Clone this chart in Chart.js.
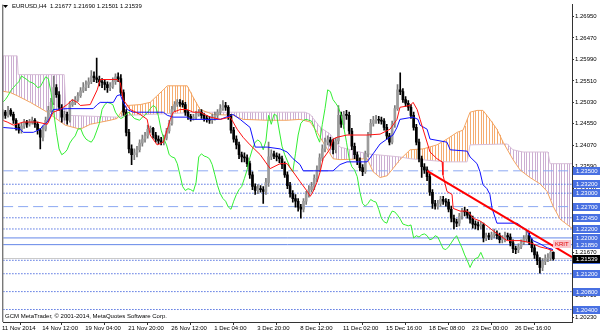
<!DOCTYPE html>
<html><head><meta charset="utf-8">
<script src="https://cdn.jsdelivr.net/npm/chart.js@4.4.1/dist/chart.umd.min.js"></script>
<style>html,body{margin:0;padding:0;background:#fff;overflow:hidden}</style>
</head><body>
<canvas id="c" width="600" height="333"></canvas>
<script>
const headerText = 'EURUSD,H4  1.21677 1.21690 1.21501 1.21539';
const footerText = 'GCM MetaTrader, \u00A9 2001-2014, MetaQuotes Software Corp.';
const tickIdx = [0, 15, 31, 47, 63, 79, 95, 111, 127, 143, 159, 175, 191];
const tickLabels = ['11 Nov 2014','14 Nov 12:00','19 Nov 04:00','21 Nov 20:00','26 Nov 12:00','1 Dec 04:00','3 Dec 20:00','8 Dec 12:00','11 Dec 02:00','15 Dec 16:00','18 Dec 08:00','23 Dec 00:00','26 Dec 16:00'];
const axisTicks = [1.20230,1.20710,1.21190,1.21670,1.22150,1.22630,1.23110,1.23590,1.24070,1.24550,1.25030,1.25510,1.25990,1.26470,1.26950];

const openP = [1.2476,1.2470,1.2481,1.2474,1.2485,1.2476,1.2463,1.2447,1.2441,1.2450,
1.2459,1.2454,1.2459,1.2463,1.2454,1.2441,1.2425,1.2443,1.2463,1.2485,
1.2503,1.2536,1.2520,1.2492,1.2470,1.2476,1.2463,1.2498,1.2503,1.2509,
1.2518,1.2529,1.2536,1.2543,1.2549,1.2562,1.2558,1.2554,1.2549,1.2547,
1.2543,1.2536,1.2538,1.2549,1.2560,1.2556,1.2525,1.2481,1.2436,1.2399,
1.2386,1.2390,1.2397,1.2412,1.2421,1.2428,1.2443,1.2445,1.2430,1.2421,
1.2417,1.2414,1.2423,1.2439,1.2456,1.2487,1.2498,1.2503,1.2501,1.2498,
1.2481,1.2472,1.2467,1.2470,1.2476,1.2481,1.2474,1.2467,1.2465,1.2463,
1.2470,1.2474,1.2481,1.2489,1.2496,1.2492,1.2472,1.2441,1.2421,1.2408,
1.2386,1.2381,1.2379,1.2366,1.2341,1.2315,1.2306,1.2310,1.2308,1.2304,
1.2324,1.2381,1.2388,1.2383,1.2381,1.2377,1.2364,1.2341,1.2317,1.2299,
1.2288,1.2282,1.2269,1.2264,1.2282,1.2297,1.2308,1.2315,1.2333,1.2352,
1.2379,1.2399,1.2414,1.2419,1.2414,1.2397,1.2417,1.2474,1.2454,1.2476,
1.2474,1.2439,1.2405,1.2386,1.2372,1.2357,1.2348,1.2388,1.2430,1.2456,
1.2463,1.2465,1.2463,1.2461,1.2447,1.2428,1.2414,1.2454,1.2489,1.2531,
1.2527,1.2509,1.2501,1.2492,1.2474,1.2447,1.2414,1.2377,1.2359,1.2352,
1.2337,1.2302,1.2277,1.2271,1.2277,1.2286,1.2282,1.2280,1.2264,1.2244,
1.2236,1.2233,1.2249,1.2260,1.2258,1.2251,1.2242,1.2231,1.2229,1.2227,
1.2229,1.2200,1.2205,1.2202,1.2207,1.2209,1.2205,1.2196,1.2198,1.2205,
1.2202,1.2189,1.2176,1.2174,1.2180,1.2189,1.2198,1.2205,1.2191,1.2178,
1.2162,1.2149,1.2134,1.2147,1.2154,1.2156,1.21677];

const highP = [1.2483,1.2487,1.2485,1.2494,1.2489,1.2481,1.2467,1.2454,1.2456,1.2465,
1.2463,1.2465,1.2470,1.2467,1.2459,1.2445,1.2450,1.2470,1.2494,1.2512,
1.2562,1.2543,1.2527,1.2498,1.2483,1.2481,1.2505,1.2509,1.2516,1.2525,
1.2536,1.2547,1.2551,1.2558,1.2574,1.2571,1.2602,1.2562,1.2556,1.2554,
1.2549,1.2547,1.2558,1.2567,1.2569,1.2565,1.2531,1.2487,1.2443,1.2408,
1.2399,1.2405,1.2419,1.2430,1.2436,1.2452,1.2450,1.2447,1.2436,1.2428,
1.2425,1.2430,1.2445,1.2463,1.2494,1.2505,1.2509,1.2509,1.2507,1.2503,
1.2485,1.2476,1.2476,1.2483,1.2487,1.2487,1.2478,1.2474,1.2472,1.2476,
1.2481,1.2487,1.2498,1.2507,1.2503,1.2496,1.2476,1.2447,1.2428,1.2414,
1.2392,1.2390,1.2386,1.2372,1.2348,1.2321,1.2319,1.2317,1.2315,1.2333,
1.2414,1.2397,1.2394,1.2390,1.2388,1.2383,1.2370,1.2348,1.2324,1.2306,
1.2297,1.2288,1.2275,1.2288,1.2304,1.2317,1.2324,1.2341,1.2361,1.2388,
1.2408,1.2423,1.2428,1.2425,1.2421,1.2423,1.2496,1.2481,1.2483,1.2485,
1.2481,1.2445,1.2412,1.2392,1.2379,1.2364,1.2394,1.2436,1.2465,1.2472,
1.2474,1.2472,1.2470,1.2467,1.2454,1.2434,1.2461,1.2496,1.2543,1.2569,
1.2534,1.2516,1.2507,1.2498,1.2481,1.2454,1.2421,1.2383,1.2366,1.2359,
1.2344,1.2308,1.2284,1.2284,1.2293,1.2293,1.2288,1.2286,1.2271,1.2251,
1.2242,1.2255,1.2266,1.2269,1.2264,1.2258,1.2249,1.2238,1.2236,1.2236,
1.2233,1.2211,1.2211,1.2213,1.2220,1.2216,1.2211,1.2205,1.2213,1.2211,
1.2209,1.2196,1.2182,1.2187,1.2196,1.2205,1.2216,1.2211,1.2198,1.2185,
1.2169,1.2156,1.2154,1.2162,1.2165,1.2176,1.21690];

const lowP = [1.2463,1.2465,1.2467,1.2470,1.2472,1.2456,1.2441,1.2434,1.2434,1.2445,
1.2447,1.2450,1.2454,1.2447,1.2432,1.2399,1.2417,1.2439,1.2459,1.2481,
1.2498,1.2514,1.2485,1.2459,1.2463,1.2454,1.2459,1.2494,1.2498,1.2505,
1.2514,1.2525,1.2529,1.2536,1.2545,1.2549,1.2547,1.2540,1.2536,1.2531,
1.2525,1.2529,1.2534,1.2543,1.2549,1.2518,1.2474,1.2428,1.2390,1.2364,
1.2375,1.2381,1.2392,1.2405,1.2414,1.2423,1.2436,1.2423,1.2414,1.2410,
1.2408,1.2408,1.2419,1.2434,1.2452,1.2483,1.2494,1.2494,1.2492,1.2474,
1.2465,1.2461,1.2463,1.2465,1.2472,1.2467,1.2461,1.2459,1.2456,1.2456,
1.2463,1.2467,1.2476,1.2485,1.2485,1.2465,1.2434,1.2414,1.2399,1.2377,
1.2370,1.2370,1.2359,1.2333,1.2308,1.2297,1.2299,1.2302,1.2277,1.2297,
1.2315,1.2375,1.2377,1.2372,1.2368,1.2355,1.2335,1.2310,1.2291,1.2280,
1.2269,1.2260,1.2244,1.2258,1.2275,1.2291,1.2302,1.2308,1.2326,1.2348,
1.2372,1.2392,1.2408,1.2405,1.2388,1.2390,1.2410,1.2447,1.2445,1.2465,
1.2432,1.2397,1.2377,1.2364,1.2350,1.2339,1.2344,1.2381,1.2425,1.2450,
1.2456,1.2456,1.2454,1.2441,1.2421,1.2408,1.2410,1.2447,1.2485,1.2520,
1.2503,1.2494,1.2485,1.2467,1.2441,1.2408,1.2370,1.2335,1.2344,1.2328,
1.2295,1.2266,1.2264,1.2264,1.2271,1.2275,1.2271,1.2258,1.2236,1.2220,
1.2225,1.2227,1.2242,1.2249,1.2244,1.2233,1.2222,1.2220,1.2218,1.2220,
1.2191,1.2194,1.2196,1.2196,1.2200,1.2198,1.2189,1.2189,1.2191,1.2196,
1.2182,1.2167,1.2165,1.2167,1.2176,1.2185,1.2191,1.2185,1.2169,1.2154,
1.2140,1.2121,1.2127,1.2140,1.2147,1.2149,1.21501];

const closeP = [1.2470,1.2481,1.2474,1.2485,1.2476,1.2463,1.2447,1.2441,1.2450,1.2459,
1.2454,1.2459,1.2463,1.2454,1.2441,1.2425,1.2443,1.2463,1.2485,1.2503,
1.2536,1.2520,1.2492,1.2470,1.2476,1.2463,1.2498,1.2503,1.2509,1.2518,
1.2529,1.2536,1.2543,1.2549,1.2562,1.2558,1.2554,1.2549,1.2547,1.2543,
1.2536,1.2538,1.2549,1.2560,1.2556,1.2525,1.2481,1.2436,1.2399,1.2386,
1.2390,1.2397,1.2412,1.2421,1.2428,1.2443,1.2445,1.2430,1.2421,1.2417,
1.2414,1.2423,1.2439,1.2456,1.2487,1.2498,1.2503,1.2501,1.2498,1.2481,
1.2472,1.2467,1.2470,1.2476,1.2481,1.2474,1.2467,1.2465,1.2463,1.2470,
1.2474,1.2481,1.2489,1.2496,1.2492,1.2472,1.2441,1.2421,1.2408,1.2386,
1.2381,1.2379,1.2366,1.2341,1.2315,1.2306,1.2310,1.2308,1.2304,1.2324,
1.2381,1.2388,1.2383,1.2381,1.2377,1.2364,1.2341,1.2317,1.2299,1.2288,
1.2282,1.2269,1.2264,1.2282,1.2297,1.2308,1.2315,1.2333,1.2352,1.2379,
1.2399,1.2414,1.2419,1.2414,1.2397,1.2417,1.2474,1.2454,1.2476,1.2474,
1.2439,1.2405,1.2386,1.2372,1.2357,1.2348,1.2388,1.2430,1.2456,1.2463,
1.2465,1.2463,1.2461,1.2447,1.2428,1.2414,1.2454,1.2489,1.2531,1.2527,
1.2509,1.2501,1.2492,1.2474,1.2447,1.2414,1.2377,1.2359,1.2352,1.2337,
1.2302,1.2277,1.2271,1.2277,1.2286,1.2282,1.2280,1.2264,1.2244,1.2236,
1.2233,1.2249,1.2260,1.2258,1.2251,1.2242,1.2231,1.2229,1.2227,1.2229,
1.2200,1.2205,1.2202,1.2207,1.2209,1.2205,1.2196,1.2198,1.2205,1.2202,
1.2189,1.2176,1.2174,1.2180,1.2189,1.2198,1.2205,1.2191,1.2178,1.2162,
1.2149,1.2134,1.2147,1.2154,1.2156,1.21677,1.21539];

// Ichimoku lines (bar position, price)
const tenkanBar = [0.9,2.7,5.0,8.7,13.9,17.6,19.8,22.4,25.0,26.9,28.8,29.9,33.6,36.2,37.3,43.6,44.8,45.9,48.5,52.2,54.8,55.9,58.5,60.8,62.3,63.4,64.5,67.1,69.7,71.9,74.5,78.3,82.0,85.7,86.8,88.3,90.5,93.1,96.9,99.5,100.6,104.3,106.9,109.1,111.7,114.4,115.5,116.6,118.1,119.2,120.3,122.9,124.0,125.5,129.2,136.7,141.5,145.2,147.8,148.9,152.7,153.8,155.3,156.4,157.5,160.1,162.7,164.6,164.9,166.4,168.3,168.7,171.3,173.9,175.0,176.1,178.7,181.3,183.6,186.2,188.8,193.6,196.2,198.4,201.0,203.7,205.9];
const tenkanVal = [1.2463,1.2459,1.2452,1.2459,1.2459,1.2454,1.2481,1.2487,1.2498,1.2509,1.2503,1.2496,1.2498,1.2531,1.2554,1.2554,1.2547,1.2509,1.2487,1.2476,1.2465,1.2430,1.2408,1.2414,1.2443,1.2465,1.2481,1.2487,1.2487,1.2481,1.2481,1.2470,1.2465,1.2470,1.2459,1.2443,1.2425,1.2408,1.2386,1.2364,1.2355,1.2366,1.2366,1.2348,1.2326,1.2304,1.2293,1.2304,1.2326,1.2348,1.2377,1.2399,1.2421,1.2425,1.2430,1.2430,1.2432,1.2443,1.2465,1.2492,1.2496,1.2503,1.2487,1.2465,1.2443,1.2392,1.2377,1.2370,1.2341,1.2304,1.2297,1.2266,1.2260,1.2260,1.2253,1.2244,1.2238,1.2227,1.2216,1.2205,1.2194,1.2194,1.2191,1.2187,1.2180,1.2176,1.2171];

const kijunBar = [0.9,5.0,7.6,8.7,12.4,15.0,16.1,17.6,18.7,19.8,25.0,34.7,36.2,37.3,42.2,43.6,44.8,45.9,47.4,49.6,60.8,62.3,64.5,69.7,70.8,82.0,86.8,89.4,93.1,95.0,99.5,104.3,106.9,109.1,111.7,112.9,124.0,126.6,129.2,136.7,138.9,141.5,144.1,146.3,147.8,148.9,153.8,155.6,156.4,159.0,160.1,166.4,167.6,173.9,175.0,177.6,178.7,179.8,181.3,182.4,183.2,185.0,192.5,196.2,198.4,201.0,203.7,205.9];
const kijunVal = [1.2447,1.2445,1.2443,1.2436,1.2436,1.2443,1.2452,1.2459,1.2470,1.2487,1.2489,1.2489,1.2498,1.2503,1.2503,1.2518,1.2520,1.2503,1.2487,1.2481,1.2481,1.2474,1.2470,1.2470,1.2465,1.2465,1.2476,1.2465,1.2447,1.2403,1.2403,1.2399,1.2392,1.2377,1.2364,1.2350,1.2350,1.2364,1.2370,1.2370,1.2388,1.2410,1.2421,1.2430,1.2447,1.2465,1.2470,1.2465,1.2452,1.2443,1.2421,1.2414,1.2397,1.2394,1.2381,1.2366,1.2348,1.2319,1.2310,1.2297,1.2266,1.2233,1.2233,1.2216,1.2194,1.2187,1.2178,1.2174];

const senkouABar = [0,3.8,6.4,11.3,17.6,24.3,29.9,33.6,41.0,43.6,45.5,47.4,52.2,55.9,60.8,62.3,69.7,71.6,74.5,79.4,86.8,90.5,99.5,106.9,111.7,115.5,118.1,121.8,124.0,126.6,136.7,138.9,141.5,144.1,146.3,148.9,152.7,157.5,162.7,166.4,170.2,172.4,175.0,177.6,179.8,182.4,185.0,187.3,191.0,193.6,197.3,201.0,203.7,205.9,208.5,213.5];
const senkouAVal = [1.2529,1.2525,1.2518,1.2503,1.2481,1.2452,1.2443,1.2454,1.2463,1.2467,1.2485,1.2496,1.2498,1.2503,1.2531,1.2540,1.2540,1.2518,1.2487,1.2476,1.2474,1.2465,1.2463,1.2463,1.2465,1.2459,1.2436,1.2399,1.2377,1.2375,1.2377,1.2348,1.2335,1.2339,1.2355,1.2375,1.2397,1.2399,1.2408,1.2421,1.2436,1.2441,1.2481,1.2485,1.2485,1.2465,1.2443,1.2414,1.2375,1.2352,1.2335,1.2321,1.2304,1.2271,1.2242,1.2219];

const senkouBBar = [0,6.4,6.8,23.9,24.7,43.6,47.4,74.5,113.6,115.5,119.2,122.9,126.6,136.7,148.9,152.7,166.4,173.9,175.0,188.8,191.0,194.7,204.0,204.8,213.5];
const senkouBVal = [1.2607,1.2607,1.2565,1.2565,1.2474,1.2470,1.2474,1.2481,1.2481,1.2476,1.2447,1.2432,1.2403,1.2388,1.2381,1.2377,1.2370,1.2370,1.2408,1.2410,1.2397,1.2392,1.2392,1.2366,1.2366];

const trendBar = [159.0, 212.95];
const trendVal = [1.2350, 1.2157];
const trendName = 'KRIT';

const levelPrices = [1.2350,1.2320,1.2300,1.2270,1.2245,1.2220,1.2200,1.2185,1.2150,1.2120,1.2080,1.2040];
const levelKinds  = ['dash','dot','dot','dash','dot','dot','solid','solid','dot','dot','dot','dot'];
const lastPrice = 1.21539;

// ---------- rendering ----------
const FONT = "'Liberation Sans', Arial, sans-serif";
const pts = (xs, ys) => xs.map((x,k) => ({x, y: ys[k]}));
const X_MIN = 1.2326, X_MAX = 212.953;

const styleOf = k => k==='dash' ? {c:'rgb(140,168,242)', d:[10,5]} : k==='dot' ? {c:'rgb(85,115,225)', d:[1.5,1.5]} : {c:'rgb(100,135,232)', d:[]};

const levelSets = levelPrices.map((p,k) => {
  const s = styleOf(levelKinds[k]);
  return {type:'line', data:[{x:-10,y:p},{x:230,y:p}], borderColor:s.c, borderDash:s.d, borderWidth:1, pointRadius:0, order:9};
});

const isBull = i => closeP[i] >= openP[i];

// value of a read span at a bar position (used for the cloud hatching between the two spans)
function lineAt(xs, ys, a){
  if (a <= xs[0]) return ys[0];
  for (let k = 1; k < xs.length; k++) {
    if (a <= xs[k]) { const t = (a - xs[k-1]) / (xs[k] - xs[k-1]); return ys[k-1] + t * (ys[k] - ys[k-1]); }
  }
  return ys[ys.length-1];
}

const cloud = {
  id:'cloud',
  beforeDatasetsDraw(chart){
    const {ctx, chartArea:ar} = chart; const xs = chart.scales.x, ys = chart.scales.y;
    ctx.save();
    ctx.beginPath(); ctx.rect(ar.left, ar.top, ar.right-ar.left, ar.bottom-ar.top); ctx.clip();
    for (let a = 0; a <= 214; a++) {
      const A = lineAt(senkouABar, senkouAVal, a), B = lineAt(senkouBBar, senkouBVal, a);
      const px = Math.round(xs.getPixelForValue(a));
      const y1 = ys.getPixelForValue(Math.max(A,B)), y2 = ys.getPixelForValue(Math.min(A,B));
      ctx.fillStyle = A >= B ? 'rgb(245,172,112)' : 'rgb(204,174,210)';
      ctx.fillRect(px, y1, 1, y2 - y1);
    }
    ctx.restore();
  }
};

const decor = {
  id:'decor',
  afterDraw(chart){
    const {ctx, chartArea:a} = chart; const y = chart.scales.y;
    ctx.save();
    ctx.strokeStyle = '#444'; ctx.lineWidth = 1;
    ctx.beginPath(); ctx.moveTo(a.left-0.5, a.top); ctx.lineTo(a.left-0.5, a.bottom); ctx.stroke();
    ctx.font = '6px ' + FONT; ctx.textBaseline = 'middle'; ctx.fillStyle = '#000';
    ctx.beginPath(); ctx.moveTo(3,5); ctx.lineTo(8,5); ctx.lineTo(5.5,8); ctx.closePath(); ctx.fill();
    ctx.fillText(headerText, 12, 6.5);
    ctx.fillText(footerText, 5, 316);
    levelPrices.forEach(p => {
      const py = Math.round(y.getPixelForValue(p));
      ctx.fillStyle = 'rgb(72,112,226)'; ctx.fillRect(573, py-4, 27, 8);
      ctx.fillStyle = '#fff'; ctx.fillText(p.toFixed(5), 576, py);
    });
    const lp = Math.round(y.getPixelForValue(lastPrice));
    ctx.fillStyle = '#000'; ctx.fillRect(573, lp-4, 27, 8);
    ctx.fillStyle = '#fff'; ctx.fillText(lastPrice.toFixed(5), 576, lp);
    const ty = Math.round(y.getPixelForValue(1.2187));
    ctx.fillStyle = 'rgb(250,200,205)'; ctx.fillRect(553, ty-4, 18, 8);
    ctx.fillStyle = '#e00000'; ctx.fillText(trendName, 555, ty);
    ctx.restore();
  }
};

new Chart(document.getElementById('c'), {
  type:'line',
  data:{ datasets:[
    {type:'line', data:pts(trendBar,trendVal), borderColor:'#ff0000', borderWidth:2, pointRadius:0, order:0},
    {type:'line', data:pts(tenkanBar,tenkanVal), borderColor:'#ff1010', borderWidth:1, pointRadius:0, order:1},
    {type:'line', data:pts(kijunBar,kijunVal), borderColor:'#1010ff', borderWidth:1, pointRadius:0, order:2},
    {type:'line', data:closeP.map((c,i)=>({x:i-26, y:c})), borderColor:'#33ee33', borderWidth:1, pointRadius:0, order:3},
    {type:'bar', data:closeP.map((c,i)=>({x:i, y:[openP[i], c]})), barThickness:2, minBarLength:1, grouped:false,
      backgroundColor: ctx => isBull(ctx.dataIndex) ? '#9c9c9c' : '#000', borderWidth:0, order:4},
    {type:'bar', data:closeP.map((c,i)=>({x:i, y:[lowP[i], highP[i]]})), barThickness:1, grouped:false,
      backgroundColor: ctx => isBull(ctx.dataIndex) ? '#7a7a7a' : '#000', borderWidth:0, order:5},
    {type:'line', data:pts(senkouABar,senkouAVal), borderColor:'#f4a460', borderWidth:1, pointRadius:0, order:6},
    {type:'line', data:pts(senkouBBar,senkouBVal), borderColor:'#d8bfd8', borderWidth:1, pointRadius:0, order:7},
    {type:'line', data:[{x:-10,y:lastPrice},{x:230,y:lastPrice}], borderColor:'#c8c8c8', borderWidth:1, pointRadius:0, order:8},
    ...levelSets
  ]},
  options:{
    responsive:false, animation:false, devicePixelRatio:1,
    layout:{padding:{left:3, top:1, right:0, bottom:0}},
    elements:{line:{tension:0}},
    plugins:{legend:{display:false}, tooltip:{enabled:false}},
    scales:{
      x:{type:'linear', min:X_MIN, max:X_MAX, offset:false,
        afterFit: s => { s.height = 11; },
        afterBuildTicks: s => { s.ticks = tickIdx.map(v => ({value:v})); },
        grid:{drawOnChartArea:false, drawTicks:true, tickLength:3, color:'#333'},
        border:{display:true, color:'#333'},
        ticks:{autoSkip:false, maxRotation:0, minRotation:0, align:'start', labelOffset:2, padding:0,
          color:'#000', font:{family:FONT, size:6},
          callback: v => { const k = tickIdx.indexOf(v); return k >= 0 ? tickLabels[k] : ''; }}
      },
      y:{type:'linear', position:'right', min:1.20121, max:1.27215,
        afterFit: s => { s.width = 28; },
        afterBuildTicks: s => { s.ticks = axisTicks.map(v => ({value:v})); },
        grid:{drawOnChartArea:false, drawTicks:true, tickLength:2, color:'#333'},
        border:{display:true, color:'#333'},
        ticks:{padding:1, color:'#000', font:{family:FONT, size:6}, callback: v => Number(v).toFixed(5)}
      }
    }
  },
  plugins:[cloud, decor]
});
</script>
</body></html>
